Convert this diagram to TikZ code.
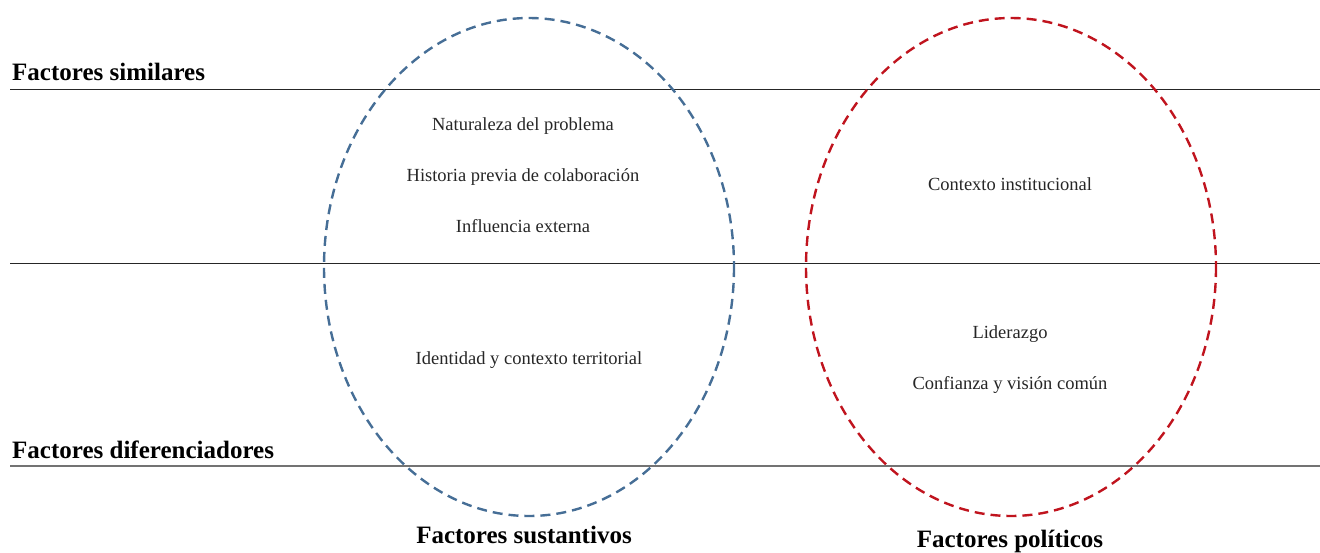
\documentclass[tikz,border=0pt]{standalone}
\usepackage{fontspec}
\setmainfont{Liberation Serif}
\definecolor{eblue}{RGB}{70,110,150}
\definecolor{ered}{RGB}{192,20,30}
\begin{document}
\begin{tikzpicture}[x=1pt,y=-1pt,
  rule/.style={draw=black!85,line width=1pt},
  circ/.style={dash pattern=on 10pt off 6pt,line width=2.4pt},
  item/.style={font=\fontsize{18.5}{22}\selectfont,text=black!85,inner sep=0pt},
  head/.style={font=\bfseries\fontsize{25}{30}\selectfont,inner sep=0pt}]
\useasboundingbox (0,0) rectangle (1320,552);
\coordinate (l1a) at (10,89);  \coordinate (l1b) at (1320,89);
\coordinate (l2a) at (10,263); \coordinate (l2b) at (1320,263);
\coordinate (l3a) at (10,466); \coordinate (l3b) at (1320,466);
\draw[rule] (l1a) -- (l1b);
\draw[rule] (l2a) -- (l2b);
\draw[rule,draw=black!55,line width=1.3pt] (l3a) -- (l3b);
\node[head,anchor=base west] (fs) at (12,80) {Factores similares};
\node[head,anchor=base west] (fd) at (12,458) {Factores diferenciadores};
\draw[circ,draw=eblue] (529,267) ellipse [x radius=205,y radius=249];
\draw[circ,draw=ered] (1011,267) ellipse [x radius=205,y radius=249];
\node[item] (n1) at (523,126) {Naturaleza del problema};
\node[item] (n2) at (523,177) {Historia previa de colaboración};
\node[item] (n3) at (523,226) {Influencia externa};
\node[item] (n4) at (529,360) {Identidad y contexto territorial};
\node[item] (n5) at (1010,184) {Contexto institucional};
\node[item] (n6) at (1010,334) {Liderazgo};
\node[item] (n7) at (1010,385) {Confianza y visión común};
\node[head,anchor=base] (t1) at (524,543) {Factores sustantivos};
\node[head,anchor=base] (t2) at (1010,547) {Factores políticos};
\end{tikzpicture}
\end{document}
